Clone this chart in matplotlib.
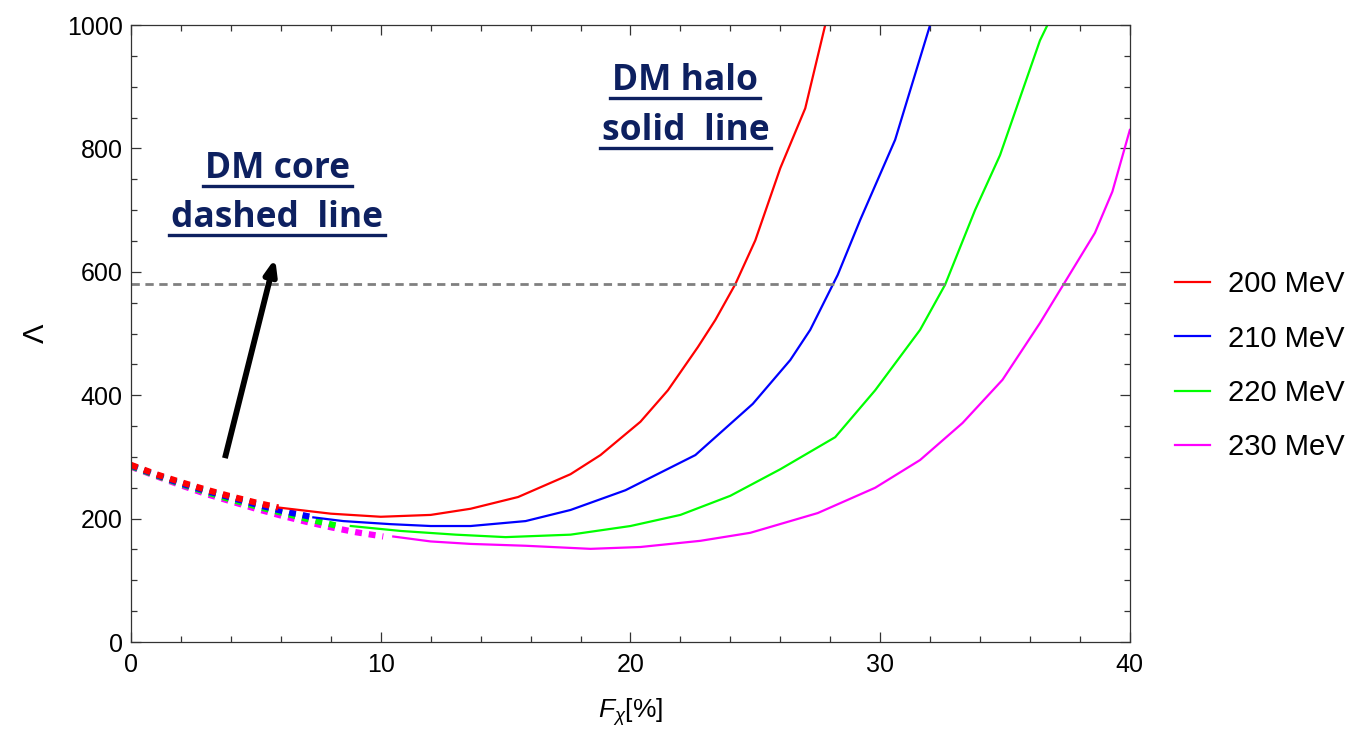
import numpy as np
import matplotlib
matplotlib.use('Agg')
from matplotlib import pyplot as plt
from matplotlib.lines import Line2D
from matplotlib.ticker import MultipleLocator

plt.rcParams['font.family'] = ['Liberation Sans', 'DejaVu Sans']
plt.rcParams['mathtext.fontset'] = 'custom'
plt.rcParams['mathtext.it'] = 'Liberation Sans:italic'
plt.rcParams['mathtext.rm'] = 'Liberation Sans'

# mass labels and colours
masses = ['200 MeV', '210 MeV', '220 MeV', '230 MeV']
colors = ['#ff0000', '#0000ff', '#00ff00', '#ff00ff']

# DM core (dashed) curves: F_chi [%], Lambda
core_x = [
    [0, 1, 2, 3, 4, 5, 5.9],
    [0, 1, 2, 3, 4, 5, 6, 7.3],
    [0, 1, 2, 3, 4, 5, 6, 7, 8.3],
    [0, 1, 2, 3, 4, 5, 6, 7, 8, 9, 10.1],
]
core_y = [
    [287, 272, 259, 247, 236, 226, 218],
    [286, 271, 257, 245, 234, 223, 213, 202],
    [285, 270, 256, 243, 231, 220, 210, 200, 188],
    [284, 269, 254, 240, 228, 216, 205, 195, 186, 178, 171],
]

# DM halo (solid) curves
halo_x = [
    [5.9, 8, 10, 12, 13.6, 15.5, 17.6, 18.8, 20.4, 21.5, 22.7, 23.4, 24.2, 25, 26, 27, 27.8],
    [7.3, 8.5, 10.4, 12, 13.6, 15.8, 17.6, 18.7, 19.8, 22.6, 24.9, 26.4, 27.2, 28.3, 29.2, 30.6, 32],
    [8.8, 10.8, 13, 15, 17.6, 20, 22, 24, 26, 28.2, 29.8, 31.6, 32.6, 33.8, 34.8, 36.4, 36.7],
    [10.5, 12, 13.6, 15.8, 18.4, 20.4, 22.8, 24.8, 27.5, 29.8, 31.6, 33.3, 34.9, 36.4, 37.5, 38.6, 39.3, 40],
]
halo_y = [
    [218, 208, 203, 206, 216, 235, 272, 303, 357, 408, 478, 522, 580, 651, 768, 865, 1000],
    [202, 196, 191, 188, 188, 196, 214, 230, 246, 303, 386, 457, 506, 595, 684, 814, 1000],
    [188, 180, 174, 170, 174, 188, 206, 237, 280, 332, 408, 506, 579, 700, 789, 975, 1000],
    [171, 163, 159, 156, 151, 154, 164, 177, 209, 250, 295, 355, 425, 517, 590, 663, 730, 830],
]

lambda_limit = 580

fig = plt.figure(figsize=(13.58, 7.36), dpi=100)
ax = fig.add_axes([0.0965, 0.1277, 0.7355, 0.8383])

# core curves, heaviest mass first so the red dashes sit on top
for cx, cy, c in list(zip(core_x, core_y, colors))[::-1]:
    ax.plot(cx, cy, color=c, lw=4.5, dashes=(1.1, 1.1), solid_capstyle='butt')
for hx, hy, c, m in zip(halo_x, halo_y, colors, masses):
    ax.plot(hx, hy, color=c, lw=1.6, label=m)

ax.axhline(lambda_limit, color='#808080', lw=2, dashes=(3, 2))

ax.set_xlim(0, 40)
ax.set_ylim(0, 1000)
ax.xaxis.set_major_locator(MultipleLocator(10))
ax.xaxis.set_minor_locator(MultipleLocator(2))
ax.yaxis.set_major_locator(MultipleLocator(200))
ax.yaxis.set_minor_locator(MultipleLocator(50))
ax.tick_params(which='both', direction='in', top=True, right=True,
               labelsize=18, width=0.9, color='#333333')
ax.tick_params(axis='y', which='major', length=7, pad=6)
ax.tick_params(axis='x', which='major', length=7, pad=8)
ax.tick_params(which='minor', length=4)
for s in ax.spines.values():
    s.set_linewidth(0.9)
    s.set_color('#333333')

ax.set_xlabel(r'$F_\chi$[%]', fontsize=19, labelpad=14)
ax.set_ylabel(r'$\Lambda$', fontsize=21, labelpad=12)

ax.legend(loc='center left', bbox_to_anchor=(0.846, 0.503), bbox_transform=fig.transFigure,
          frameon=False, fontsize=21, handlelength=1.2, handletextpad=0.6,
          labelspacing=0.9)

# arrow pointing to the core label
ax.annotate('', xy=(5.77, 622), xytext=(3.76, 298),
            arrowprops=dict(arrowstyle='-|>,head_length=0.9,head_width=0.35',
                            lw=4.2, color='black', shrinkA=0, shrinkB=0,
                            capstyle='butt'))

navy = '#0d2060'
labels = [
    ('DM core', 5.85, 752),
    ('dashed  line', 5.85, 672),
    ('DM halo', 22.2, 895),
    ('solid  line', 22.2, 814),
]
texts = []
for s, x, y in labels:
    t = ax.text(x, y, s, ha='center', va='baseline', fontsize=25.5,
                fontweight='bold', color=navy, family='Open Sans')
    texts.append(t)

# underline each label line
fig.canvas.draw()
r = fig.canvas.get_renderer()
for t in texts:
    bb = t.get_window_extent(r)
    base = ax.transData.transform(t.get_position())[1]
    yl = base - 8
    x0, x1 = bb.x0 - 2, bb.x1 + 2
    fx0, fy = fig.transFigure.inverted().transform((x0, yl))
    fx1, _ = fig.transFigure.inverted().transform((x1, yl))
    fig.add_artist(Line2D([fx0, fx1], [fy, fy], transform=fig.transFigure,
                          color=navy, lw=2.4))

fig.savefig('out.png', dpi=100)
